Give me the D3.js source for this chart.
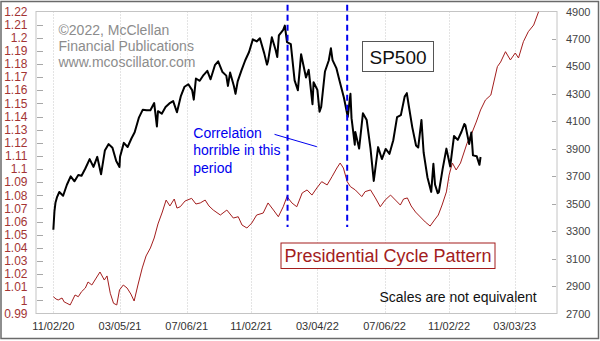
<!DOCTYPE html>
<html><head><meta charset="utf-8">
<script src="https://cdn.jsdelivr.net/npm/d3@7"></script>
<style>body{margin:0;background:#fff}svg{display:block}text{font-family:Arial,"Liberation Sans",sans-serif}</style>
</head><body><svg id="c" width="600" height="341"></svg>
<script>
// ---- DATA ----
const spDates = ["2020-11-02","2020-11-04","2020-11-06","2020-11-09","2020-11-13","2020-11-20","2020-11-27","2020-12-04","2020-12-11","2020-12-18","2020-12-24","2020-12-31",
"2021-01-08","2021-01-15","2021-01-22","2021-01-27","2021-01-29","2021-02-05","2021-02-12","2021-02-19","2021-02-26","2021-03-04","2021-03-05","2021-03-12","2021-03-19","2021-03-26",
"2021-04-01","2021-04-09","2021-04-16","2021-04-23","2021-04-30","2021-05-07","2021-05-12","2021-05-14","2021-05-21","2021-05-28","2021-06-04","2021-06-11","2021-06-18","2021-06-25",
"2021-07-02","2021-07-09","2021-07-16","2021-07-19","2021-07-23","2021-07-30","2021-08-06","2021-08-13","2021-08-19","2021-08-27","2021-09-02","2021-09-10","2021-09-17","2021-09-20","2021-09-24",
"2021-10-01","2021-10-04","2021-10-08","2021-10-15","2021-10-22","2021-10-29","2021-11-05","2021-11-12","2021-11-18","2021-11-26","2021-12-01","2021-12-03","2021-12-10","2021-12-17","2021-12-20","2021-12-23","2021-12-31",
"2022-01-03","2022-01-07","2022-01-14","2022-01-21","2022-01-27","2022-02-02","2022-02-11","2022-02-16","2022-02-23","2022-02-25","2022-03-04","2022-03-08","2022-03-11","2022-03-18","2022-03-25","2022-03-29",
"2022-04-01","2022-04-08","2022-04-14","2022-04-22","2022-04-29","2022-05-04","2022-05-06","2022-05-12","2022-05-13","2022-05-20","2022-05-27","2022-06-03","2022-06-10","2022-06-16","2022-06-24",
"2022-07-01","2022-07-08","2022-07-15","2022-07-22","2022-07-29","2022-08-05","2022-08-12","2022-08-16","2022-08-19","2022-08-26","2022-09-02","2022-09-06","2022-09-12","2022-09-16","2022-09-23","2022-09-30",
"2022-10-04","2022-10-07","2022-10-12","2022-10-14","2022-10-21","2022-10-28","2022-11-04","2022-11-11","2022-11-18","2022-11-25","2022-11-30","2022-12-02","2022-12-09","2022-12-13","2022-12-16","2022-12-23","2022-12-28","2022-12-30"];
const spValues = [3310,3443,3509,3550,3585,3558,3638,3699,3663,3709,3703,3756,
3825,3768,3841,3751,3714,3887,3934,3907,3811,3768,3842,3943,3913,3975,
4020,4129,4185,4180,4181,4233,4063,4174,4156,4204,4230,4247,4166,4281,
4352,4370,4327,4258,4412,4395,4437,4468,4406,4509,4537,4459,4433,4358,4455,
4357,4300,4391,4471,4545,4605,4697,4682,4705,4595,4513,4538,4712,4620,4568,4726,4766,
4797,4677,4663,4398,4326,4589,4419,4475,4225,4385,4329,4170,4204,4463,4543,4632,
4546,4488,4393,4272,4132,4300,4123,3930,4023,3901,4158,4109,3901,3666,3912,
3825,3899,3863,3962,4130,4145,4280,4305,4228,4058,3924,3909,4110,3873,3693,3586,
3791,3640,3577,3583,3752,3901,3771,3993,3965,4026,4080,4072,3934,4019,3852,3845,3783,3840];

const cycleDates = ["2020-11-02","2020-11-07","2020-11-11","2020-11-18","2020-11-22","2020-11-27","2020-12-03","2020-12-06","2020-12-12","2020-12-18","2020-12-24","2020-12-31",
"2021-01-05","2021-01-12","2021-01-20","2021-01-27","2021-02-04","2021-02-09","2021-02-15","2021-02-21","2021-02-27","2021-03-04","2021-03-11","2021-03-18","2021-03-25","2021-03-31",
"2021-04-07","2021-04-15","2021-04-22","2021-04-30","2021-05-07","2021-05-14","2021-05-22","2021-05-29","2021-06-05","2021-06-13","2021-06-18","2021-06-24",
"2021-07-03","2021-07-15","2021-07-23","2021-07-31","2021-08-09","2021-08-16","2021-08-24","2021-09-06","2021-09-18","2021-09-30","2021-10-09","2021-10-16","2021-10-25",
"2021-11-03","2021-11-12","2021-11-24","2021-12-03","2021-12-13","2021-12-22","2021-12-31",
"2022-01-07","2022-01-16","2022-01-25","2022-02-04","2022-02-13","2022-02-22","2022-03-03","2022-03-12","2022-03-22","2022-03-31",
"2022-04-09","2022-04-15","2022-04-21","2022-04-28","2022-05-04","2022-05-13","2022-05-25","2022-05-31","2022-06-10","2022-06-19","2022-06-28",
"2022-07-07","2022-07-17","2022-07-26","2022-08-04","2022-08-10","2022-08-17","2022-08-24","2022-09-01","2022-09-10","2022-09-19","2022-09-28",
"2022-10-06","2022-10-13","2022-10-20","2022-10-28","2022-11-02","2022-11-08","2022-11-15","2022-11-23","2022-12-05","2022-12-14","2022-12-22","2022-12-30",
"2023-01-08","2023-01-18","2023-01-30","2023-02-05","2023-02-14","2023-02-23","2023-03-04","2023-03-10","2023-03-19","2023-03-28","2023-04-07","2023-04-16"];
const cycleValues = [1.0028,1.0010,1.0003,1.0018,0.9988,0.9978,0.9965,0.9990,1.0041,1.0028,1.0066,1.0094,
1.0140,1.0117,1.0170,1.0216,1.0155,1.0186,1.0054,0.9978,0.9965,1.0079,1.0117,1.0094,1.0048,0.9995,
1.0117,1.0247,1.0338,1.0399,1.0475,1.0582,1.0673,1.0764,1.0719,1.0772,1.0703,1.0713,
1.0757,1.0777,1.0734,1.0742,1.0764,1.0719,1.0688,1.0650,1.0688,1.0627,1.0637,1.0574,1.0551,
1.0589,1.0650,1.0665,1.0742,1.0688,1.0637,1.0713,
1.0790,1.0742,1.0713,1.0818,1.0841,1.0802,1.0856,1.0904,1.0879,1.0942,
1.1008,1.1046,1.1008,1.0904,1.0866,1.0841,1.0790,1.0828,1.0841,1.0780,1.0713,
1.0764,1.0802,1.0764,1.0726,1.0772,1.0780,1.0719,1.0673,1.0635,1.0597,1.0566,
1.0612,1.0650,1.0726,1.0826,1.0955,1.1046,1.0993,1.1046,1.1196,1.1275,1.1358,1.1450,
1.1526,1.1564,1.1780,1.1815,1.1894,1.1831,1.1884,1.1846,1.1970,1.2046,1.2097,1.2198];

const xTickDates = ["2020-11-02","2021-03-05","2021-07-06","2021-11-02","2022-03-04","2022-07-06","2022-11-02","2023-03-03"];
const leftTicks = [0.99,1.00,1.01,1.02,1.03,1.04,1.05,1.06,1.07,1.08,1.09,1.10,1.11,1.12,1.13,1.14,1.15,1.16,1.17,1.18,1.19,1.20,1.21,1.22];
const rightTicks = [2700,2900,3100,3300,3500,3700,3900,4100,4300,4500,4700,4900];
const markerDates = ["2022-01-08","2022-04-28"];
const markerRange = [4950, 3330];
const pointerStart = ["2021-12-15", 4005];
const pointerEnd = ["2022-03-03", 3915];

// ---- CHART ----
const parse = d3.utcParse("%Y-%m-%d");
const fmt = d3.utcFormat("%m/%d/%y");
const L = 36, R = 557, T = 11.5, B = 313.5;
const svg = d3.select("#c");

const x = d3.scaleUtc().domain([parse("2020-10-01"), parse("2023-05-20")]).range([L, R]);
const yL = d3.scaleLinear().domain([0.99, 1.22]).range([B, T]);
const yR = d3.scaleLinear().domain([2700, 4900]).range([B, T]);

svg.append("rect").attr("x",0).attr("y",0).attr("width",600).attr("height",341).attr("fill","#fff");
svg.append("rect").attr("x",1).attr("y",1.5).attr("width",597.5).attr("height",337)
  .attr("fill","none").attr("stroke","#6a6a6a").attr("stroke-width",1.5);

// vertical grid
svg.append("g").selectAll("line").data(xTickDates).join("line")
  .attr("x1", d => Math.round(x(parse(d))) + 0.5).attr("x2", d => Math.round(x(parse(d))) + 0.5)
  .attr("y1", T).attr("y2", B).attr("stroke", "#c8c8c8").attr("stroke-dasharray", "1,2");

// plot frame
svg.append("rect").attr("x", L).attr("y", T).attr("width", R - L).attr("height", B - T)
  .attr("fill","none").attr("stroke","#c4c4c4").attr("stroke-width",1);

// left ticks
svg.append("g").selectAll("line").data(leftTicks.slice(1, -1)).join("line")
  .attr("x1", L + 1).attr("x2", L + 7)
  .attr("y1", d => Math.round(yL(d)) + 0.5).attr("y2", d => Math.round(yL(d)) + 0.5)
  .attr("stroke", "#a8a8a8");
svg.append("g").selectAll("text").data(leftTicks).join("text")
  .attr("x", 27.5).attr("y", d => yL(d) + 4.2).attr("text-anchor","end")
  .attr("font-size", 12).attr("fill", "#a33434")
  .text(d => String(+d.toFixed(2)));

// right ticks
svg.append("g").selectAll("line").data(rightTicks.slice(1, -1)).join("line")
  .attr("x1", R - 5).attr("x2", R - 1)
  .attr("y1", d => Math.round(yR(d)) + 0.5).attr("y2", d => Math.round(yR(d)) + 0.5)
  .attr("stroke", "#a8a8a8");
svg.append("g").selectAll("text").data(rightTicks).join("text")
  .attr("x", 566).attr("y", d => yR(d) + 4)
  .attr("font-size", 11).attr("fill", "#444")
  .text(d => d);

// bottom labels
svg.append("g").selectAll("text").data(xTickDates).join("text")
  .attr("x", d => x(parse(d))).attr("y", 330).attr("text-anchor","middle")
  .attr("font-size", 11).attr("fill", "#333")
  .text(d => fmt(parse(d)));

// watermark
const wm = ["\u00A92022, McClellan", "Financial Publications", "www.mcoscillator.com"];
svg.append("g").selectAll("text").data(wm).join("text")
  .attr("x", 58.5).attr("y", (d, i) => 34.5 + i * 16)
  .attr("font-size", 14).attr("fill", "#8c8c8c").text(d => d);

// presidential cycle line
const cyc = cycleDates.map((d, i) => [parse(d), cycleValues[i]]);
svg.append("path").datum(cyc)
  .attr("d", d3.line().x(d => x(d[0])).y(d => yL(d[1])))
  .attr("fill","none").attr("stroke","#a31d1d").attr("stroke-width",1).attr("stroke-linejoin","round");

// SP500 line
const sp = spDates.map((d, i) => [parse(d), spValues[i]]);
svg.append("path").datum(sp)
  .attr("d", d3.line().x(d => x(d[0])).y(d => yR(d[1])))
  .attr("fill","none").attr("stroke","#000").attr("stroke-width",2).attr("stroke-linejoin","round");

// dashed markers
svg.append("g").selectAll("line").data(markerDates).join("line")
  .attr("x1", d => x(parse(d))).attr("x2", d => x(parse(d)))
  .attr("y1", yR(markerRange[0])).attr("y2", yR(markerRange[1]))
  .attr("stroke", "#0000ee").attr("stroke-width", 2).attr("stroke-dasharray", "6,4");

// annotation
svg.append("line")
  .attr("x1", x(parse(pointerStart[0]))).attr("y1", yR(pointerStart[1]))
  .attr("x2", x(parse(pointerEnd[0]))).attr("y2", yR(pointerEnd[1]))
  .attr("stroke", "#0000ee").attr("stroke-width", 1);
const ann = ["Correlation", "horrible in this", "period"];
svg.append("g").selectAll("text").data(ann).join("text")
  .attr("x", 193.3).attr("y", (d, i) => 137.5 + i * 17.5)
  .attr("font-size", 14).attr("fill", "#0000ee").text(d => d);

// SP500 box
svg.append("rect").attr("x", 362.5).attr("y", 41.5).attr("width", 71).attr("height", 30)
  .attr("fill","#fff").attr("stroke","#555").attr("stroke-width",1);
svg.append("text").attr("x", 398).attr("y", 63.5).attr("text-anchor","middle")
  .attr("font-size", 19).attr("fill","#111").text("SP500");

// Presidential box
svg.append("rect").attr("x", 281).attr("y", 243).attr("width", 214).attr("height", 25.5)
  .attr("fill","#fff").attr("stroke","#a31d1d").attr("stroke-width",1);
svg.append("text").attr("x", 388).attr("y", 262).attr("text-anchor","middle")
  .attr("font-size", 18).attr("fill","#a31d1d").text("Presidential Cycle Pattern");

// scales note
svg.append("text").attr("x", 379.5).attr("y", 301.5)
  .attr("font-size", 14).attr("fill","#111").text("Scales are not equivalent");
</script>
</body></html>
